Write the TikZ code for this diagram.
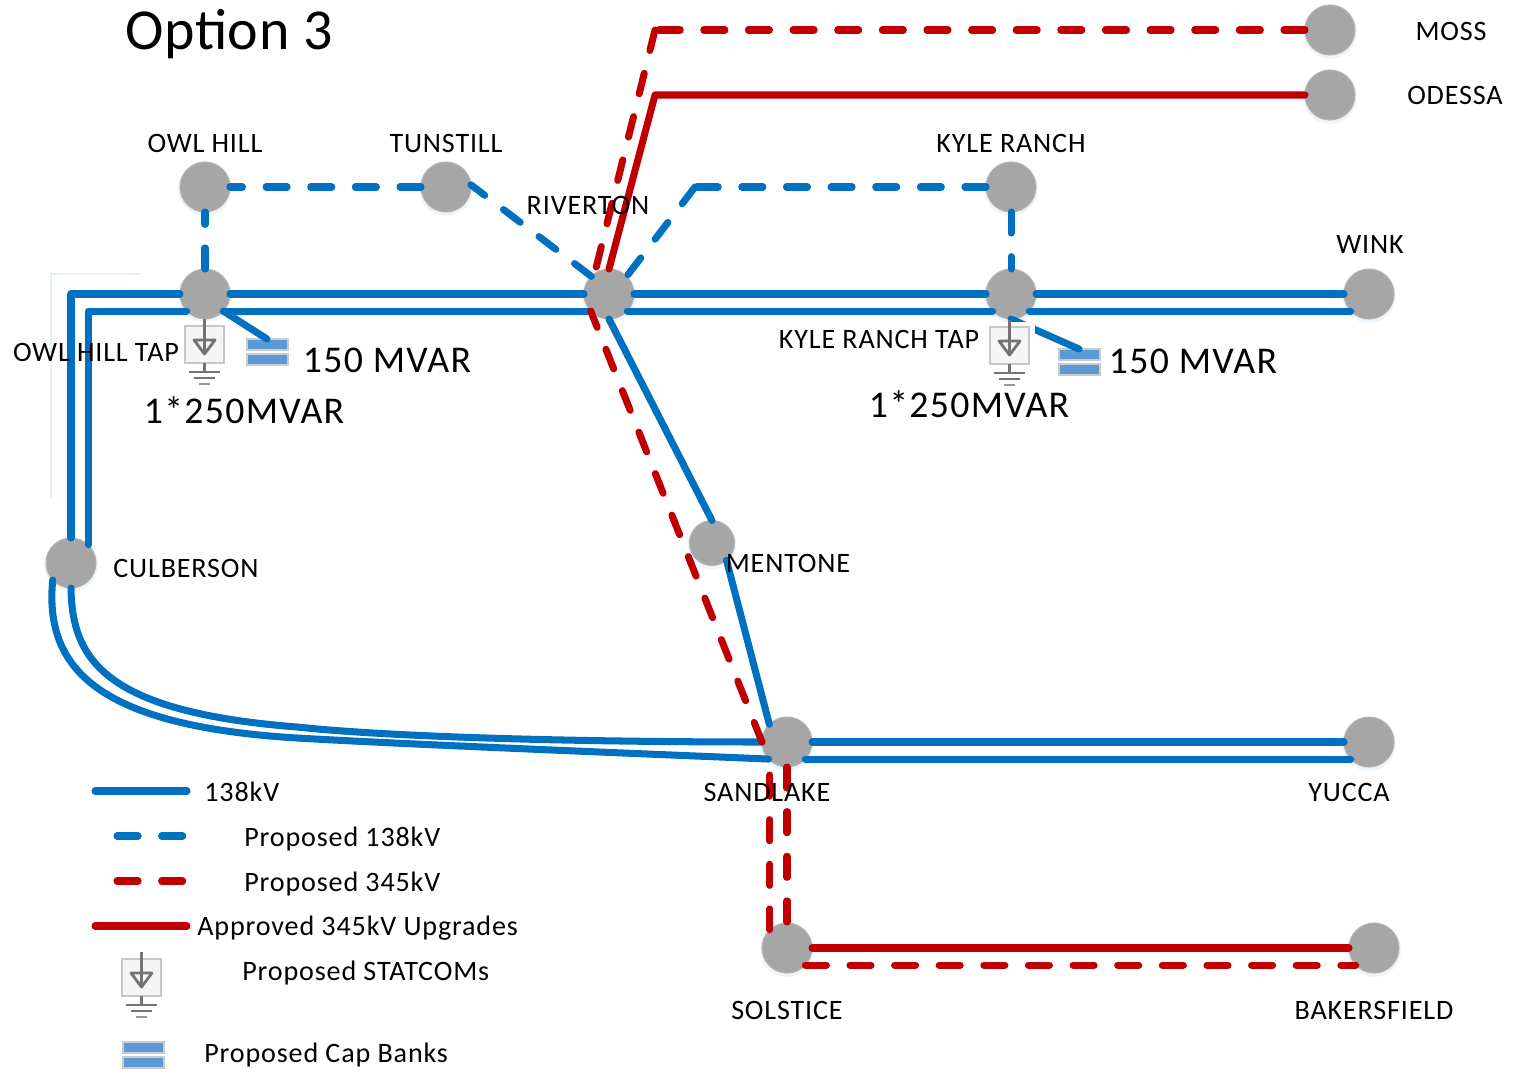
\documentclass[tikz,border=0pt]{standalone}
\usepackage{fontspec}
\setmainfont{Carlito}
\usetikzlibrary{arrows.meta,positioning,shadows}
\definecolor{lineblue}{HTML}{0070C0}
\definecolor{linered}{HTML}{C00000}
\definecolor{busgray}{HTML}{A6A6A6}
\definecolor{capblue}{HTML}{5B9BD5}
\newfontfamily\lblfont[LetterSpace=3]{Carlito}
\newfontfamily\largefont[LetterSpace=3.5]{Carlito}
\newfontfamily\titlefont[LetterSpace=1]{Carlito}
\tikzset{
  busnode/.style={circle,fill=busgray,draw=busgray!85!white,line width=0.6pt,minimum size=1cm,inner sep=0pt,outer sep=0pt,
    drop shadow={shadow xshift=0pt,shadow yshift=-1pt,shadow scale=1.08,opacity=0.07,fill=lineblue}},
  lbl/.style={font=\lblfont\fontsize{16}{18}\selectfont,text=black,inner sep=0pt},
  lbllarge/.style={font=\largefont\fontsize{21.5}{24}\selectfont,text=black,inner sep=0pt},
  solidblue/.style={draw=lineblue,line width=4pt,line cap=round,line join=round},
  dashblue/.style={solidblue,dash pattern=on 12pt off 13.4pt},
  solidred/.style={draw=linered,line width=4pt,line cap=round,line join=round},
  dashred/.style={solidred,dash pattern=on 12pt off 13.4pt},
  statcom/.pic={
    \fill[white] (-5,-5) rectangle (45,37);
    \draw[draw=black!22,fill=black!4,line width=1.3pt] (0,0) rectangle (39,37);
    \draw[draw=black!55,line width=1.6pt] (19.5,-7) -- (19.5,27);
    \draw[draw=black!55,line width=1.6pt,line join=round] (9,14) -- (30,14) -- (19.5,28) -- cycle;
    \draw[draw=black!55,line width=1.6pt] (19.5,37) -- (19.5,46);
    \draw[draw=black!55,line width=1.6pt] (4,46) -- (35,46);
    \draw[draw=black!55,line width=1.6pt] (9,52) -- (30,52);
    \draw[draw=black!40,line width=1.6pt] (14,58) -- (25,58);
  },
  capbank/.pic={
    \draw[draw=black!20,fill=capblue,line width=0.9pt] (0,0) rectangle (41,11);
    \draw[draw=black!20,fill=capblue,line width=0.9pt] (0,15) rectangle (41,26);
    \coordinate (-top) at (20,0);
  },
}

\begin{document}
\begin{tikzpicture}[x=0.02cm,y=-0.02cm]
\useasboundingbox (0,0) rectangle (1514,1074);

% stations
\node[busnode] (moss) at (1330,30) {};
\node[busnode] (odessa) at (1330,95) {};
\node[busnode] (owlhill) at (205,187) {};
\node[busnode] (tunstill) at (446,187) {};
\node[busnode] (kyleranch) at (1011,187) {};
\node[busnode] (owltap) at (205,294) {};
\node[busnode] (riverton) at (609,294) {};
\node[busnode] (kyletap) at (1011,294) {};
\node[busnode] (wink) at (1369,294) {};
\node[busnode] (culberson) at (71,563) {};
\node[busnode,minimum size=0.9cm] (mentone) at (712,543) {};
\node[busnode] (sandlake) at (787,742) {};
\node[busnode] (yucca) at (1369,742) {};
\node[busnode] (solstice) at (787,948) {};
\node[busnode] (bakersfield) at (1374,948) {};

% faint frame left of the tap
\coordinate (frameA) at (141,274);
\coordinate (frameB) at (51,274);
\coordinate (frameC) at (51,498);
\draw[draw=lineblue!10,line width=0.6pt] (frameA) -- (frameB) -- (frameC);

% 138kV
\draw[solidblue] (culberson.north) |- (owltap.west);
\draw[solidblue] (culberson.47) |- (owltap.-137);
\draw[solidblue] (owltap.east) -- (riverton.west);
\draw[solidblue] (owltap.-43) -- (riverton.-137);
\draw[solidblue] (riverton.east) -- (kyletap.west);
\draw[solidblue] (riverton.-43) -- (kyletap.-137);
\draw[solidblue] (kyletap.east) -- (wink.west);
\draw[solidblue] (kyletap.-43) -- (wink.-137);
\draw[solidblue] (riverton.-90) -- (mentone.north);
\draw[solidblue] (mentone.-50) -- (sandlake.135);
\draw[solidblue] (sandlake.east) -- (yucca.west);
\draw[solidblue] (sandlake.-43) -- (yucca.-137);
\draw[solidblue] (culberson.south) .. controls (72,660) and (105,712) .. (297,727) .. controls (400,738) and (600,742) .. (sandlake.west);
\draw[solidblue] (culberson.-137) .. controls (44,670) and (100,726) .. (297,738) .. controls (400,744) and (600,752) .. (sandlake.-137);

% proposed 138kV
\coordinate (bendblue) at (695,187);
\draw[dashblue] (tunstill.west) -- (owlhill.east);
\draw[dashblue] (owltap.north) -- (owlhill.south);
\draw[dashblue] (riverton.135) -- (tunstill.5);
\draw[dashblue] (bendblue) -- (riverton.45);
\draw[dashblue] (kyleranch.west) -- (bendblue);
\draw[dashblue] (kyleranch.south) -- (kyletap.north);

% 345kV
\coordinate (bendodessa) at (655,95);
\coordinate (bendmoss) at (655,30);
\draw[solidred] (riverton.90) -- (bendodessa) -- (odessa.west);
\draw[dashred] (moss.west) -- (bendmoss);
\draw[dashred] (bendmoss) -- (riverton.125);
\draw[dashred,dash phase=2pt] (riverton.-137) -- (sandlake.west);
\draw[dashred] (sandlake.south) -- (solstice.north);
\draw[dashred,dash phase=17pt] (sandlake.-133) -- (solstice.133);
\draw[solidred] (solstice.east) -- (bakersfield.west);
\draw[dashred] (solstice.-43) -- (bakersfield.-137);

% cap banks and statcoms
\pic (capA) at (247,339) {capbank};
\pic (capB) at (1059,349) {capbank};
\draw[solidblue] (owltap.-43) -- (capA-top);
\draw[solidblue] (kyletap.south) -- (capB-top);
\pic (statA) at (185,326) {statcom};
\pic (statB) at (990,327) {statcom};

% legend
\coordinate (legA) at (95,791);
\coordinate (legAe) at (187,791);
\coordinate (legB) at (117,836);
\coordinate (legBe) at (187,836);
\coordinate (legC) at (117,881);
\coordinate (legCe) at (187,881);
\coordinate (legD) at (95,926);
\coordinate (legDe) at (187,926);
\draw[solidblue] (legA) -- (legAe);
\draw[dashblue] (legB) -- (legBe);
\draw[dashred] (legC) -- (legCe);
\draw[solidred] (legD) -- (legDe);
\pic (statL) at (122,959) {statcom};
\pic (capL) at (123,1042) {capbank};

% labels
\node[font=\titlefont\fontsize{33}{36}\selectfont,inner sep=0pt] (title) at (229,34) {Option 3};
\node[lbl] (mosslbl) at (1451,31) {MOSS};
\node[lbl] (odessalbl) at (1455,95) {ODESSA};
\node[lbl] (owlhilllbl) at (205,143) {OWL HILL};
\node[lbl] (tunstilllbl) at (446,143) {TUNSTILL};
\node[lbl] (kyleranchlbl) at (1011,143) {KYLE RANCH};
\node[lbl] (rivertonlbl) at (588,205) {RIVERTON};
\node[lbl] (winklbl) at (1370,244) {WINK};
\node[lbl] (owltaplbl) at (96,352) {OWL HILL TAP};
\node[lbl] (kyletaplbl) at (879,339) {KYLE RANCH TAP};
\node[lbl] (culbersonlbl) at (186,568) {CULBERSON};
\node[lbl] (mentonelbl) at (788,563) {MENTONE};
\node[lbl] (sandlakelbl) at (767,792) {SANDLAKE};
\node[lbl] (yuccalbl) at (1349,792) {YUCCA};
\node[lbl] (solsticelbl) at (787,1010) {SOLSTICE};
\node[lbl] (bakersfieldlbl) at (1374,1010) {BAKERSFIELD};
\node[lbllarge] (capAlbl) at (387,360) {150 MVAR};
\node[lbllarge] (capBlbl) at (1193,361) {150 MVAR};
\node[lbllarge] (statAlbl) at (244,410) {1*250MVAR};
\node[lbllarge] (statBlbl) at (969,404) {1*250MVAR};
\node[lbl,anchor=west] (legAlbl) at (204,792) {138kV};
\node[lbl,anchor=west] (legBlbl) at (244,839) {Proposed 138kV};
\node[lbl,anchor=west] (legClbl) at (244,884) {Proposed 345kV};
\node[lbl,anchor=west] (legDlbl) at (197,928) {Approved 345kV Upgrades};
\node[lbl,anchor=west] (legElbl) at (242,973) {Proposed STATCOMs};
\node[lbl,anchor=west] (legFlbl) at (204,1055) {Proposed Cap Banks};
\end{tikzpicture}
\end{document}
